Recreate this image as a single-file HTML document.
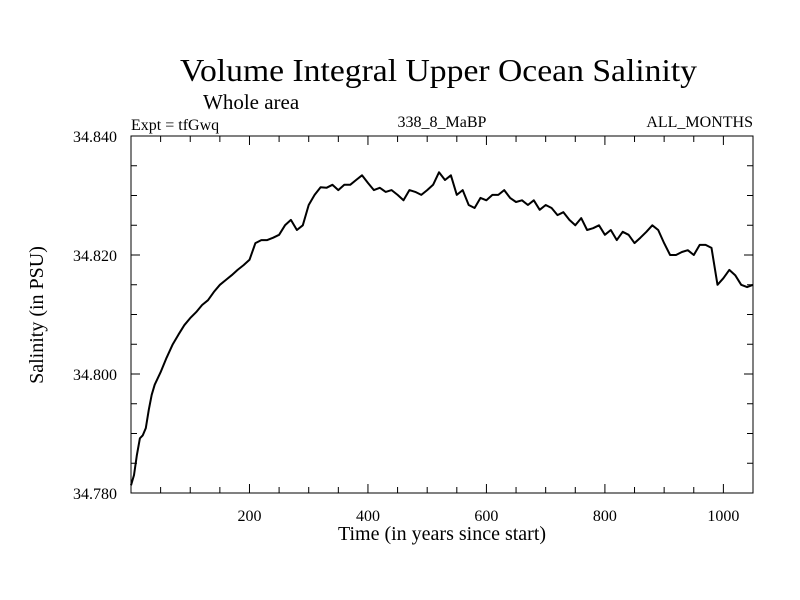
<!DOCTYPE html>
<html><head><meta charset="utf-8"><style>
html,body{margin:0;padding:0;background:#fff;}
svg{display:block;font-family:"Liberation Serif",serif;}
</style></head><body>
<svg id="chart" width="800" height="600" viewBox="0 0 800 600" xmlns="http://www.w3.org/2000/svg">
<text x="180" y="81" font-size="32" textLength="517" lengthAdjust="spacingAndGlyphs">Volume Integral Upper Ocean Salinity</text>
<text x="203" y="109" font-size="21">Whole area</text>
<text x="131" y="130" font-size="16">Expt = tfGwq</text>
<text x="442" y="127" font-size="16" text-anchor="middle">338_8_MaBP</text>
<text x="753" y="127" font-size="16" text-anchor="end">ALL_MONTHS</text>
<text transform="translate(43,315) rotate(-90)" font-size="20" text-anchor="middle">Salinity (in PSU)</text>
<text x="442" y="540" font-size="20" text-anchor="middle">Time (in years since start)</text>
<g id="axes"></g>
<g id="series"></g>
</svg>
<script>
const years = [0,5,10,15,20,25,30,35,40,50,60,70,80,90,100,110,120,130,140,150,160,170,180,190,200,210,220,230,240,250,260,270,280,290,300,310,320,330,340,350,360,370,380,390,400,410,420,430,440,450,460,470,480,490,500,510,520,530,540,550,560,570,580,590,600,610,620,630,640,650,660,670,680,690,700,710,720,730,740,750,760,770,780,790,800,810,820,830,840,850,860,870,880,890,900,910,920,930,940,950,960,970,980,990,1000,1010,1020,1030,1040,1050];
const salinity = [34.7813,34.7830,34.7864,34.7892,34.7897,34.7909,34.7940,34.7965,34.7982,34.8003,34.8027,34.8049,34.8066,34.8082,34.8094,34.8104,34.8116,34.8124,34.8138,34.8150,34.8158,34.8166,34.8175,34.8183,34.8192,34.8220,34.8225,34.8225,34.8229,34.8234,34.8250,34.8259,34.8242,34.8250,34.8284,34.8301,34.8314,34.8313,34.8318,34.8309,34.8318,34.8318,34.8326,34.8334,34.8321,34.8309,34.8313,34.8306,34.8309,34.8301,34.8292,34.8309,34.8306,34.8301,34.8309,34.8318,34.8339,34.8326,34.8334,34.8301,34.8309,34.8284,34.8279,34.8296,34.8292,34.8301,34.8301,34.8309,34.8296,34.8289,34.8292,34.8284,34.8292,34.8276,34.8284,34.8279,34.8267,34.8272,34.8259,34.8250,34.8262,34.8242,34.8245,34.8250,34.8234,34.8242,34.8225,34.8239,34.8234,34.8220,34.8229,34.8239,34.8250,34.8242,34.8220,34.8200,34.8200,34.8205,34.8208,34.8200,34.8217,34.8217,34.8212,34.8150,34.8161,34.8175,34.8166,34.8150,34.8146,34.8150];
const xTickLabels = [200,400,600,800,1000];
const yTickLabels = ["34.780","34.800","34.820","34.840"];

const L=131,R=753,T=136,B=493;
const xMin=0,xMax=1050,yMin=34.780,yMax=34.840;
const xs=v=>L+(v-xMin)/(xMax-xMin)*(R-L);
const ys=v=>B-(v-yMin)/(yMax-yMin)*(B-T);
const NS="http://www.w3.org/2000/svg";
const axes=document.getElementById('axes');
function mk(tag,attrs,parent){const e=document.createElementNS(NS,tag);for(const k in attrs)e.setAttribute(k,attrs[k]);parent.appendChild(e);return e;}

const frame=mk('rect',{x:L,y:T,width:R-L,height:B-T,fill:'none',stroke:'#000','stroke-width':1},axes);



for(let v=50;v<xMax;v+=50){
  const major=v%200===0;const len=major?9:6;const x=xs(v);
  const t1=mk('line',{x1:x,x2:x,y1:B,y2:B-len,stroke:'#000','stroke-width':1},axes);
  
  
  const t2=mk('line',{x1:x,x2:x,y1:T,y2:T+len,stroke:'#000','stroke-width':1},axes);
  
  
}
xTickLabels.forEach(v=>{
  const t=mk('text',{x:xs(v),y:B+28,'font-size':16,'text-anchor':'middle'},axes);
  t.textContent=String(v);
  
  
});
for(let i=0;i<=12;i++){
  const v=yMin+i*0.005;const y=ys(v);const major=i%4===0;const len=major?9:6;
  const t1=mk('line',{x1:L,x2:L+len,y1:y,y2:y,stroke:'#000','stroke-width':1},axes);
  
  
  const t2=mk('line',{x1:R,x2:R-len,y1:y,y2:y,stroke:'#000','stroke-width':1},axes);
  
  
}
yTickLabels.forEach(s=>{
  const t=mk('text',{x:L-14,y:ys(parseFloat(s))+6,'font-size':16,'text-anchor':'end'},axes);
  t.textContent=s;
  
  
});

const d=years.map((yr,i)=>(i?'L':'M')+xs(yr).toFixed(1)+','+ys(salinity[i]).toFixed(1)).join('');
const line=mk('path',{d:d,fill:'none',stroke:'#000','stroke-width':2,'stroke-linejoin':'round'},document.getElementById('series'));


</script>
</body></html>
